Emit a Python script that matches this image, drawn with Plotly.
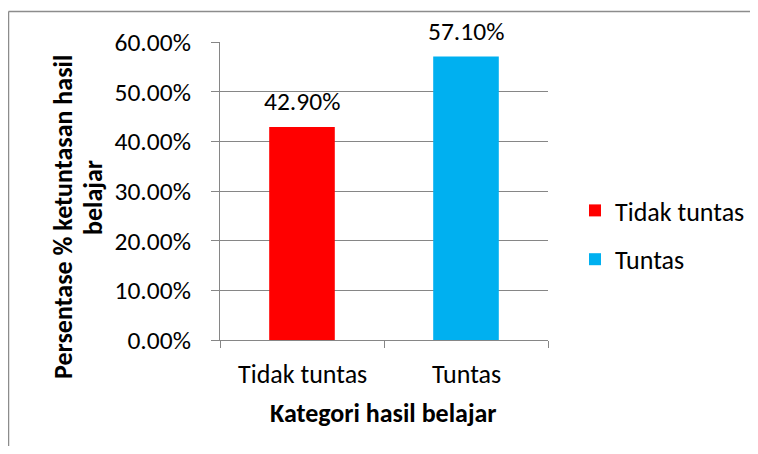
import plotly.graph_objects as go

categories = ["Tidak tuntas", "Tuntas"]
values = [0.429, 0.571]
colors = ["#FF0000", "#00B0F0"]
label_texts = ["42.90%", "57.10%"]
y_ticks = [0, 0.1, 0.2, 0.3, 0.4, 0.5, 0.6]

FONT = "Calibri, Carlito, Lato, sans-serif"
# page offset produced by the default 8px body margin
OFF = 8
W, H = 758 - OFF, 454 - 2 * OFF
# plot area in page pixels: x 220..548, y 42..340
PL, PR, PT, PB = 220, 548, 42, 340
L, R, T, B = PL - OFF, W - (PR - OFF), PT - OFF, H - (PB - OFF)
pw, ph = W - L - R, H - T - B

def px_x(px):
    return (px - OFF - L) / pw

def px_y(py):
    return (H - B - (py - OFF)) / ph

NUM = 25.5
WORD = 26

fig = go.Figure()
for i, (c, v, col) in enumerate(zip(categories, values, colors)):
    fig.add_trace(go.Bar(
        x=[c], y=[v], name=c, marker=dict(color=col, line=dict(width=0)),
        legendgroup=f"g{i}", hoverinfo="skip",
    ))
    fig.add_annotation(
        x=c, y=v, text=label_texts[i], showarrow=False, xref="x", yref="y",
        yanchor="middle", yshift=25, font=dict(family=FONT, size=NUM, color="#000000"),
    )

# y title (two lines placed as in the reference)
fig.add_annotation(x=px_x(63), y=px_y(217), xref="paper", yref="paper",
                   text="<b>Persentase % ketuntasan hasil</b>", textangle=-90,
                   showarrow=False, xanchor="center", yanchor="middle",
                   font=dict(family=FONT, size=WORD, color="#000000"))
fig.add_annotation(x=px_x(93), y=px_y(198), xref="paper", yref="paper",
                   text="<b>belajar</b>", textangle=-90,
                   showarrow=False, xanchor="center", yanchor="middle",
                   font=dict(family=FONT, size=WORD, color="#000000"))
# x title
fig.add_annotation(x=px_x(383), y=px_y(413), xref="paper", yref="paper",
                   text="<b>Kategori hasil belajar</b>",
                   showarrow=False, xanchor="center", yanchor="middle",
                   font=dict(family=FONT, size=WORD, color="#000000"))

# outer chart frame (top and left edges; right/bottom lie outside the picture)
frame = dict(color="#8C8C8C", width=1.5)
fig.add_shape(type="line", xref="paper", yref="paper",
              x0=px_x(8.5), x1=px_x(770), y0=px_y(11.5), y1=px_y(11.5),
              line=frame, layer="below")
fig.add_shape(type="line", xref="paper", yref="paper",
              x0=px_x(8.5), x1=px_x(8.5), y0=px_y(11.5), y1=px_y(480),
              line=frame, layer="below")

fig.update_layout(
    width=W, height=H,
    margin=dict(l=L, r=R, t=T, b=B, autoexpand=False),
    paper_bgcolor="white", plot_bgcolor="white",
    bargap=0.6,
    font=dict(family=FONT, size=NUM, color="#000000"),
    showlegend=True,
    legend=dict(x=px_x(575), y=px_y(187), xanchor="left", yanchor="top",
                font=dict(family=FONT, size=WORD, color="#000000"),
                tracegroupgap=12, bgcolor="rgba(0,0,0,0)"),
)
fig.update_xaxes(
    showline=True, linecolor="#868686", linewidth=1,
    ticks="outside", ticklen=7, tickcolor="#868686",
    tickmode="array", tickvals=[-0.5, 0.5, 1.5], ticktext=["", "", ""],
    showgrid=False, range=[-0.5, 1.5],
)
# category labels
for c in categories:
    fig.add_annotation(x=c, y=0, xref="x", yref="y", text=c, showarrow=False,
                       yanchor="middle", yshift=-34,
                       font=dict(family=FONT, size=WORD, color="#000000"))
fig.update_yaxes(
    range=[0, 0.6], tickvals=y_ticks, tickformat=".2%",
    showline=True, linecolor="#868686", linewidth=1,
    ticks="outside", ticklen=8, tickcolor="#868686",
    showgrid=True, gridcolor="#868686", gridwidth=1,
    zeroline=False, ticklabelstandoff=15,
    tickfont=dict(family=FONT, size=NUM, color="#000000"),
)

fig.write_html("out.html")
